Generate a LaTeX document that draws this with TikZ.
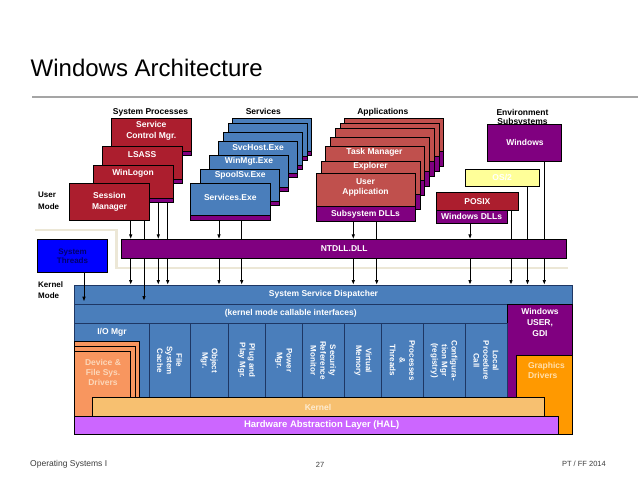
\documentclass[tikz,border=0pt]{standalone}
\usepackage{fontspec}
\setmainfont{Liberation Sans}
\usetikzlibrary{arrows.meta}
\definecolor{sysred}{RGB}{172,30,46}
\definecolor{appred}{RGB}{192,80,77}
\definecolor{svcblue}{RGB}{74,126,187}
\definecolor{kblue}{RGB}{74,126,187}
\definecolor{kline}{RGB}{30,55,100}
\definecolor{dllpurple}{RGB}{128,0,128}
\definecolor{thrblue}{RGB}{0,0,255}
\definecolor{thrtext}{RGB}{0,0,110}
\definecolor{os2yellow}{RGB}{255,255,153}
\definecolor{drvorange}{RGB}{248,150,95}
\definecolor{drvtext}{RGB}{252,215,185}
\definecolor{kernorange}{RGB}{247,192,112}
\definecolor{kerntext}{RGB}{253,236,210}
\definecolor{gfxorange}{RGB}{255,153,0}
\definecolor{gfxtext}{RGB}{255,222,170}
\definecolor{halviolet}{RGB}{204,102,255}
\definecolor{sepbeige}{RGB}{236,231,214}
\definecolor{titlerule}{RGB}{165,165,165}
\definecolor{foot}{RGB}{60,60,60}
\newcommand\lblfont{\bfseries\fontsize{8.5}{11.5}\selectfont}
\newcommand\colfont{\bfseries\fontsize{8}{9.7}\selectfont}
\tikzset{
  rect/.style={draw=black, line width=0.5pt, inner sep=0pt, outer sep=0pt, align=center, text=white, font=\lblfont},
  lbl/.style={inner sep=0pt, align=center, text=white, font=\lblfont},
  hdr/.style={inner sep=0pt, align=center, text=black, font=\lblfont},
  collbl/.style={inner sep=0pt, align=center, text=white, font=\colfont, rotate=-90},
  arr/.style={line width=1pt, -{Latex[length=5pt,width=3.6pt]}},
  ln/.style={line width=1pt},
  foottext/.style={inner sep=0pt, text=foot},
}
% \rbox[opts]{name}{x1}{y1}{x2}{y2}{text}
\newcommand\rbox[7][]{\node[rect,#1,minimum width={(#5)-(#3)},minimum height={(#6)-(#4)}] (#2) at ({((#3)+(#5))/2},{((#4)+(#6))/2}) {#7};}
% \pbox{name}{x}{y}{w}{h}{strip}{colour}
\newcommand\pbox[7]{%
  \rbox[fill=#7]{#1}{#2}{#3}{(#2)+(#4)}{(#3)+(#5)-(#6)}{}%
  \rbox[fill=dllpurple]{#1-dll}{#2}{(#3)+(#5)-(#6)}{(#2)+(#4)}{(#3)+(#5)}{}}
\begin{document}
\begin{tikzpicture}[x=1pt,y=-1pt]
\useasboundingbox (0,0) rectangle (638,479);
\fill[white] (0,0) rectangle (638,479);

% title
\node[anchor=base west, inner sep=0pt, font=\fontsize{24}{28}\selectfont] (title) at (30.5,76.7) {Windows Architecture};
\draw[titlerule, line width=1.2pt] (32,97) -- (638,97);

% user / kernel separator
\draw[sepbeige, line width=2.5pt] (35,230) -- (116.7,230) -- (116.7,268) -- (568,268);

% section headers
\node[hdr, anchor=base] (hsp) at (150.5,114.8) {System Processes};
\node[hdr, anchor=base] (hsv) at (263.3,114.8) {Services};
\node[hdr, anchor=base] (hap) at (382.8,114.8) {Applications};
\node[hdr, font=\bfseries\fontsize{8.5}{9.5}\selectfont] (hes) at (522.5,118) {Environment\\Subsystems};
\node[hdr, align=left, anchor=west, font=\bfseries\fontsize{8}{11.7}\selectfont] (um) at (38,200.5) {User\\Mode};
\node[hdr, align=left, anchor=west, font=\bfseries\fontsize{8}{10.7}\selectfont] (km) at (38,290.3) {Kernel\\Mode};

% system processes
\pbox{scm}{111.7}{118.3}{79.5}{36.7}{4}{sysred}
\pbox{lsass}{102.3}{146.7}{79.5}{36.7}{4}{sysred}
\pbox{wl}{93.3}{165}{79.5}{37}{4}{sysred}
\rbox[fill=sysred]{sm}{69.5}{183.3}{149.5}{220}{Session\\Manager}
\node[lbl] (scm-t) at (151.3,130.9) {Service\\Control Mgr.};
\node[lbl] (lsass-t) at (142,154.3) {LSASS};
\node[lbl] (wl-t) at (133,173.3) {WinLogon};

% services
\pbox{svA}{232.3}{118.3}{79}{36.7}{4}{svcblue}
\pbox{svB}{228.3}{123.3}{79}{36.7}{4}{svcblue}
\pbox{svC}{223.3}{132.3}{79}{36.7}{4}{svcblue}
\pbox{svch}{218.3}{141}{79}{36.7}{4}{svcblue}
\pbox{wmgt}{209.3}{155}{79}{36.7}{4}{svcblue}
\pbox{spool}{200.7}{169}{79}{36.7}{4}{svcblue}
\pbox{svc}{190}{183.3}{80.7}{36.7}{4.3}{svcblue}
\node[lbl] (svch-t) at (258,147.7) {SvcHost.Exe};
\node[lbl] (wmgt-t) at (249,161.7) {WinMgt.Exe};
\node[lbl] (spool-t) at (240.2,175.7) {SpoolSv.Exe};
\node[lbl] (svc-t) at (230.3,197.5) {Services.Exe};

% applications
\pbox{apA}{344.3}{118.3}{99}{48.3}{15}{appred}
\pbox{apB}{340}{123.3}{99}{48.3}{15}{appred}
\pbox{apC}{335}{128.3}{99}{48.3}{15}{appred}
\pbox{apD}{330}{137.7}{99}{48.3}{15}{appred}
\pbox{tm}{325}{146.7}{99}{48.3}{15}{appred}
\pbox{exp}{321}{161}{99}{48.3}{15}{appred}
\pbox{ua}{316}{173.3}{99}{48.4}{15}{appred}
\node[lbl] (tm-t) at (374.5,152.3) {Task Manager};
\node[lbl] (exp-t) at (370.5,166.3) {Explorer};
\node[lbl, font=\bfseries\fontsize{8.5}{10}\selectfont] (ua-t) at (365.5,187.3) {User\\Application};
\node[lbl] (ua-dll-t) at (ua-dll) {Subsystem DLLs};

% environment subsystems
\rbox[fill=dllpurple]{win}{487.3}{124.3}{561.7}{161}{}
\node[lbl] (win-t) at (525,142.7) {Windows};
\rbox[fill=os2yellow]{os2}{465}{169}{539.3}{186}{OS/2}
\rbox[fill=sysred]{posix}{436}{192.3}{518.7}{210}{POSIX}
\rbox[fill=dllpurple]{wdll}{436}{210}{507.3}{223.3}{Windows DLLs}

% NTDLL and system threads
\rbox[fill=dllpurple]{ntdll}{121.7}{239.3}{566.7}{258.3}{NTDLL.DLL}
\rbox[fill=thrblue]{thr}{37.3}{239.3}{107.7}{272.3}{}
\node[lbl, text=thrtext, font=\bfseries\fontsize{8}{9}\selectfont] (thr-t) at (72.5,255.8) {System\\Threads};

% kernel
\rbox[fill=kblue, draw=kline]{ssd}{74.3}{285}{572.7}{304}{System Service Dispatcher}
\rbox[fill=kblue, draw=kline]{kmci}{74.3}{304}{507.3}{323.3}{(kernel mode callable interfaces)}
\rbox[fill=dllpurple]{wug}{507.3}{304}{572.7}{397.3}{}
\node[lbl, font=\bfseries\fontsize{8.5}{11}\selectfont] (wug-t) at (540,322.8) {Windows\\USER,\\GDI};
\rbox[fill=kblue, draw=kline]{iom}{74.3}{323.3}{149.3}{397.3}{}
\node[lbl] (iom-t) at (112,331.9) {I/O Mgr};
\foreach \n/\a/\b/\t in {
  c1/149.3/190/{File\\System\\Cache},
  c2/190/228.3/{Object\\Mgr.},
  c3/228.3/265/{Plug and\\Play Mgr.},
  c4/265/302.3/{Power\\Mgr.},
  c5/302.3/344.3/{Security\\Reference\\Monitor},
  c6/344.3/381.7/{Virtual\\Memory},
  c7/381.7/423/{Processes\\\&\\Threads},
  c8/423/465/{Configura-\\tion Mgr\\(registry)},
  c9/465/507.3/{Local\\Procedure\\Call}} {
  \rbox[fill=kblue, draw=kline]{\n}{\a}{323.3}{\b}{397.3}{}
  \node[collbl] (\n-t) at ({(\a+\b)/2},360.5) {\t};
}
\rbox[fill=drvorange]{drv3}{74.3}{341.7}{139.3}{416}{}
\rbox[fill=drvorange]{drv2}{74.3}{346}{135.7}{416}{}
\rbox[fill=drvorange]{drv1}{74.3}{351}{130.7}{416}{}
\node[lbl, text=drvtext, font=\bfseries\fontsize{8.5}{10.2}\selectfont] (drv-t) at (103,372.5) {Device \&\\File Sys.\\Drivers};
\rbox[fill=gfxorange]{gfx}{516.7}{355.7}{572.7}{434}{}
\node[lbl, text=gfxtext, align=left, anchor=west, font=\bfseries\fontsize{8.5}{9.5}\selectfont] (gfx-t) at (527.8,370.5) {Graphics\\Drivers};
\rbox[fill=kernorange]{kern}{92.3}{397.3}{544.3}{416}{}
\node[lbl, text=kerntext] (kern-t) at (318,407) {Kernel};
\rbox[fill=halviolet]{hal}{74.3}{416}{558.3}{434}{}
\node[lbl, font=\bfseries\fontsize{9.5}{11}\selectfont] (hal-t) at (321.7,425.5) {Hardware Abstraction Layer (HAL)};

% connectors
\foreach \n/\x in {a/130.7,b/144,c/158.3,d/167.7,e/219,f/241.7,g/353.3,h/376.7,i/470,j/511,k/527.5,l/544.3,t/84} {\coordinate (x\n) at (\x,0);}
\draw[arr] (sm.south -| xa) -- (ntdll.north -| xa);
\draw[ln] (sm.south -| xb) -- (ntdll.north -| xb);
\draw[arr] (wl-dll.south -| xc) -- (ntdll.north -| xc);
\draw[ln] (wl-dll.south -| xd) -- (ntdll.north -| xd);
\draw[arr] (svc-dll.south -| xe) -- (ntdll.north -| xe);
\draw[ln] (svc-dll.south -| xf) -- (ntdll.north -| xf);
\draw[arr] (ua-dll.south -| xg) -- (ntdll.north -| xg);
\draw[ln] (ua-dll.south -| xh) -- (ntdll.north -| xh);
\draw[arr] (wdll.south -| xi) -- (ntdll.north -| xi);
\draw[ln] (posix.south -| xj) -- (ntdll.north -| xj);
\draw[ln] (os2.south -| xk) -- (ntdll.north -| xk);
\draw[ln] (win.south -| xl) -- (ntdll.north -| xl);
\foreach \n in {a,c,d,e,f,g,h,i,j,k,l} {\draw[arr] (ntdll.south -| x\n) -- (ssd.north -| x\n);}
\coordinate (endb) at (144,301);
\draw[arr] (ntdll.south -| xb) -- (endb);
\coordinate (endt) at (84,301.7);
\draw[arr] (thr.south -| xt) -- (endt);

% footer
\node[foottext, anchor=west, font=\fontsize{8.5}{10}\selectfont] (f1) at (30,464) {Operating Systems I};
\node[foottext, font=\fontsize{7.5}{9}\selectfont] (f2) at (320,464.5) {27};
\node[foottext, anchor=east, font=\fontsize{7.5}{9}\selectfont] (f3) at (606,464) {PT / FF 2014};
\end{tikzpicture}
\end{document}
